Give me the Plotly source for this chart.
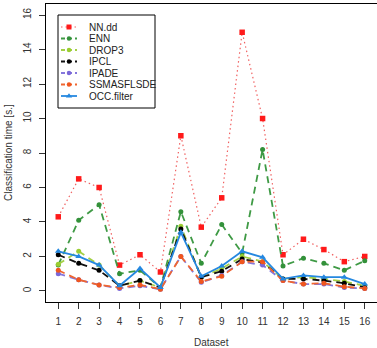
import plotly.graph_objects as go

datasets = list(range(1, 17))
series_names = ["NN.dd", "ENN", "DROP3", "IPCL", "IPADE", "SSMASFLSDE", "OCC.filter"]
nn_dd = [4.3, 6.5, 6.0, 1.5, 2.1, 1.1, 9.0, 3.7, 5.4, 15.0, 10.0, 2.1, 3.0, 2.4, 1.7, 2.0]
enn = [1.5, 4.1, 5.0, 1.0, 1.2, 0.2, 4.6, 1.6, 3.85, 2.2, 8.2, 1.45, 1.9, 1.6, 1.2, 1.75]
drop3 = [1.55, 2.3, 1.5, 0.3, 0.6, 0.2, 3.75, 0.8, 1.3, 2.0, 1.7, 0.7, 0.8, 0.7, 0.55, 0.3]
ipcl = [2.1, 1.6, 1.2, 0.3, 0.6, 0.2, 3.6, 0.8, 1.15, 1.85, 1.65, 0.7, 0.7, 0.6, 0.45, 0.2]
ipade = [1.0, 0.65, 0.35, 0.15, 0.3, 0.1, 2.0, 0.5, 0.9, 1.7, 1.5, 0.6, 0.4, 0.4, 0.2, 0.15]
ssmasflsde = [1.2, 0.65, 0.35, 0.2, 0.35, 0.1, 2.0, 0.55, 0.85, 1.7, 1.7, 0.6, 0.4, 0.45, 0.25, 0.15]
occ_filter = [2.3, 2.0, 1.5, 0.3, 1.3, 0.2, 3.4, 0.85, 1.45, 2.3, 1.95, 0.7, 0.9, 0.8, 0.8, 0.4]
y_ticks = [0, 2, 4, 6, 8, 10, 12, 14, 16]

values = [nn_dd, enn, drop3, ipcl, ipade, ssmasflsde, occ_filter]
colors = ["#FF1A1A", "#33913A", "#9ACD32", "#000000", "#7B68D8", "#F0561E", "#2588E0"]
line_colors = ["#F06060", "#3F9A45", "#A3D045", "#111111", "#8577DC", "#F06630", "#2588E0"]
dashes = ["1.5px,3px", "7px,5px", "7px,5px", "7px,5px", "7px,5px", "7px,5px", "solid"]
widths = [1.2, 1.8, 1.8, 1.8, 1.8, 1.8, 1.8]
symbols = ["square", "circle", "circle", "circle", "circle", "circle", "triangle-up"]
msizes = [5.5, 5, 5, 5, 5, 5, 6]

# plot area in pixels
W, H = 377, 348
L, R, T, B = 46, 377, 4, 302

fig = go.Figure()
for name, vals, c, lc, d, w, s, ms in zip(series_names, values, colors, line_colors, dashes, widths, symbols, msizes):
    fig.add_trace(go.Scatter(
        x=datasets, y=vals, name=name, mode="lines+markers",
        line=dict(color=lc, dash=d, width=w),
        marker=dict(symbol=s, size=ms, color=c),
        showlegend=False, cliponaxis=False,
    ))

# manual legend (R-style compact legend) on a pixel-coordinate overlay axis
leg_x0, leg_y0, leg_x1, leg_y1 = 58, 15, 155, 108
row0, row_step = 27, 11.5
for i, (name, c, lc, d, w, s, ms) in enumerate(zip(series_names, colors, line_colors, dashes, widths, symbols, msizes)):
    yy = row0 + i * row_step
    fig.add_trace(go.Scatter(
        x=[61, 69, 77], y=[yy, yy, yy], xaxis="x2", yaxis="y2",
        mode="lines", line=dict(color=lc, dash=d if d == "solid" else ("1.5px,3px" if i == 0 else "4px,3px"), width=w),
        showlegend=False, hoverinfo="skip",
    ))
    fig.add_trace(go.Scatter(
        x=[69], y=[yy], xaxis="x2", yaxis="y2",
        mode="markers", marker=dict(symbol=s, size=ms - 0.5, color=c),
        showlegend=False, hoverinfo="skip",
    ))
    fig.add_annotation(x=87, y=yy, xref="x2", yref="y2", text=name, showarrow=False,
                       xanchor="left", yanchor="middle",
                       font=dict(family="Liberation Sans, Arial, sans-serif", size=10, color="#222"))
fig.add_shape(type="rect", x0=leg_x0, y0=leg_y0, x1=leg_x1, y1=leg_y1, xref="x2", yref="y2",
              line=dict(color="#000", width=1), fillcolor="rgba(0,0,0,0)")

tick_font = dict(family="Liberation Sans, Arial, sans-serif", size=10, color="#333")
fig.update_layout(
    width=W, height=H,
    margin=dict(l=L, r=W - R, t=T, b=H - B, pad=0),
    paper_bgcolor="white", plot_bgcolor="white",
    xaxis=dict(range=[0.4, 16.6], tickvals=datasets, ticktext=[str(v) for v in datasets],
               showgrid=False, zeroline=False, showline=True, mirror=True, linecolor="#000", linewidth=1,
               ticks="outside", ticklen=6, tickcolor="#333", tickfont=tick_font, ticklabelstandoff=4),
    yaxis=dict(range=[-0.64, 16.64], tickvals=y_ticks, ticktext=[str(v) for v in y_ticks],
               showgrid=False, zeroline=False, showline=True, linecolor="#000", linewidth=1,
               ticks="outside", ticklen=6, tickcolor="#333", tickfont=tick_font, tickangle=-90,
               ticklabelstandoff=4),
    xaxis2=dict(range=[L, R], overlaying="x", visible=False, fixedrange=True),
    yaxis2=dict(range=[B, T], overlaying="y", visible=False, fixedrange=True),
    annotations=list(fig.layout.annotations) + [
        dict(text="Dataset", xref="paper", yref="paper", x=(211.5 - L) / (R - L), y=(B - 342.5) / (B - T),
             showarrow=False, xanchor="center", yanchor="middle",
             font=dict(family="Liberation Sans, Arial, sans-serif", size=10, color="#333")),
        dict(text="Classification time [s.]", xref="paper", yref="paper", x=(8 - L) / (R - L), y=0.5,
             textangle=-90, showarrow=False, xanchor="center", yanchor="middle",
             font=dict(family="Liberation Sans, Arial, sans-serif", size=10, color="#333")),
    ],
)

fig.write_html("out.html")
